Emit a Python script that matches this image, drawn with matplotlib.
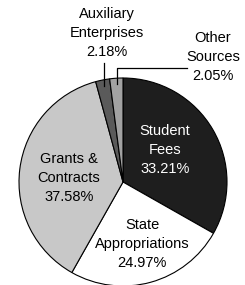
import numpy as np
import matplotlib
matplotlib.use("Agg")
import matplotlib.pyplot as plt

# revenue sources (percent)
labels = ["Student\nFees", "State\nAppropriations", "Grants &\nContracts",
          "Auxiliary\nEnterprises", "Other\nSources"]
shares = [33.21, 24.97, 37.58, 2.18, 2.05]
colors = ["#1e1e1e", "#ffffff", "#c8c8c8", "#5a5a5a", "#a2a2a2"]

plt.rcParams['font.family'] = ['Liberation Sans Narrow', 'Liberation Sans', 'DejaVu Sans']

W, H = 245, 285
fig = plt.figure(figsize=(W / 100, H / 100), dpi=100)
ax = fig.add_axes([0, 0, 1, 1])
ax.set_xlim(0, W)
ax.set_ylim(0, H)
ax.set_aspect("equal")
ax.axis("off")

cx, cy, r = 123, H - 182, 104
ax.pie(shares, colors=colors, startangle=90, counterclock=False,
       center=(cx, cy), radius=r, frame=True,
       wedgeprops=dict(edgecolor="black", linewidth=0.8))
ax.set_xlim(0, W)
ax.set_ylim(0, H)
ax.axis("off")

txt = dict(ha="center", va="center", fontsize=10.5, linespacing=1.45)
pct = [f"{s:.2f}%" for s in shares]

ax.text(165, H - 150, f"{labels[0]}\n{pct[0]}", color="white", **txt)
ax.text(142, H - 244, f"{labels[1]}\n{pct[1]}", color="black", **txt)
ax.text(69, H - 178, f"{labels[2]}\n{pct[2]}", color="black", **txt)
ax.text(107, H - 33, f"{labels[3]}\n{pct[3]}", color="black", **txt)
ax.text(213, H - 57, f"{labels[4]}\n{pct[4]}", color="black", **txt)

# leader lines for the thin slices
cum = np.cumsum([0] + shares)
mids = [(cum[i] + cum[i + 1]) / 2 for i in range(len(shares))]

def edge_pt(i, frac):
    a = np.deg2rad(90 - mids[i] * 3.6)
    return cx + frac * r * np.cos(a), cy + frac * r * np.sin(a)

x3, y3 = edge_pt(3, 0.94)
ax.plot([x3, x3], [y3, H - 63], color="black", lw=0.9)
x4, y4 = edge_pt(4, 0.94)
ax.plot([x4, x4, 187], [y4, H - 68, H - 68], color="black", lw=0.9)

fig.savefig("out.png", dpi=100)
